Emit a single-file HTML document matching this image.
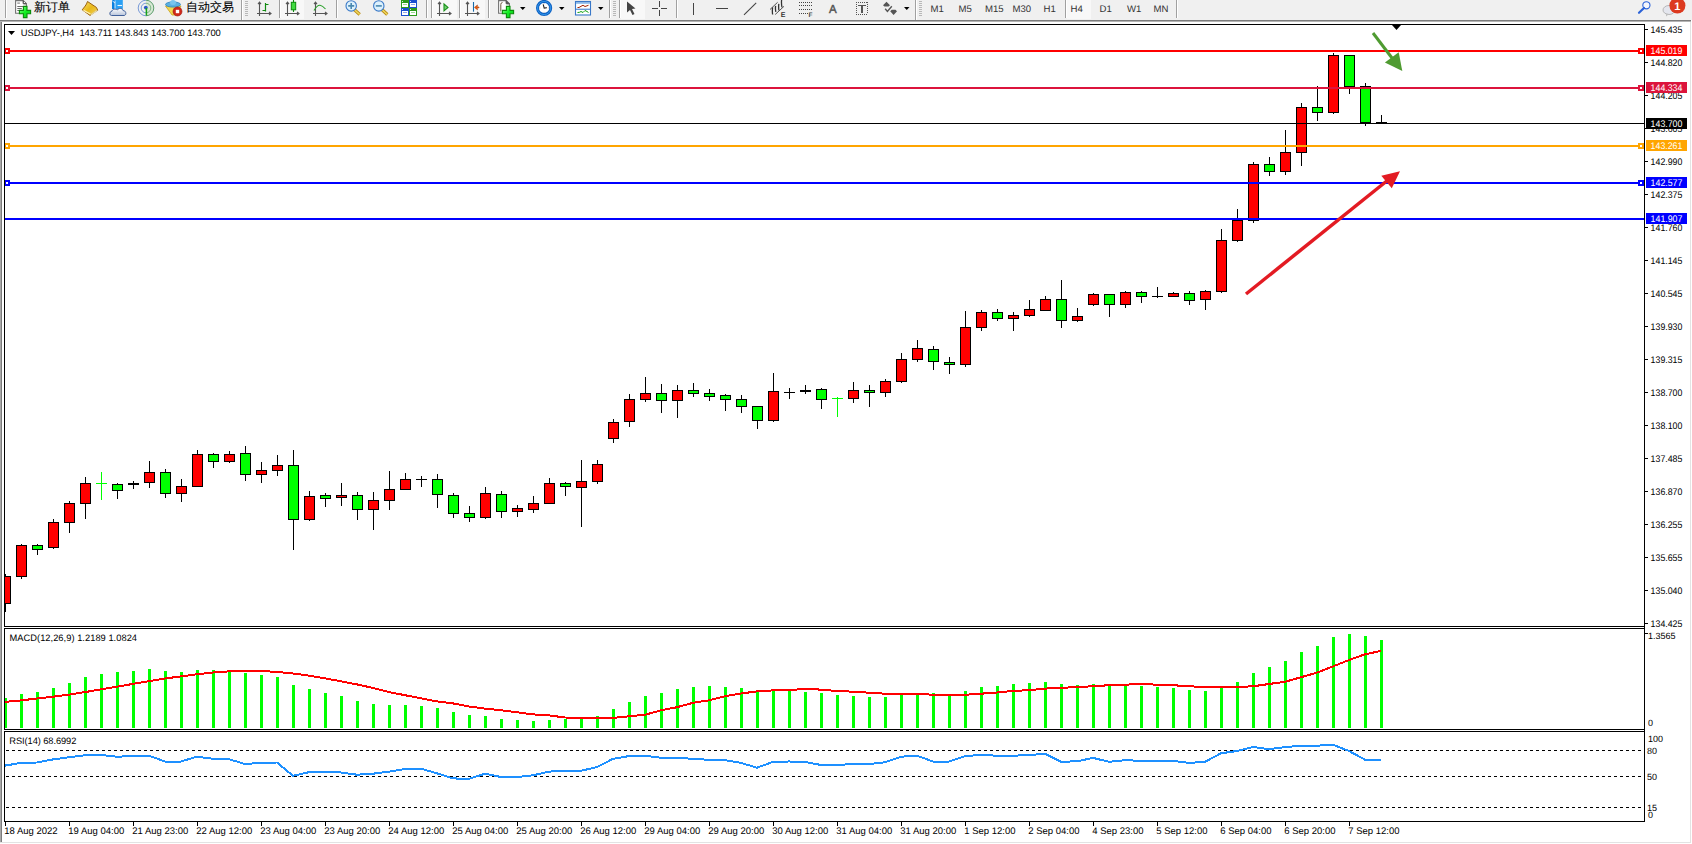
<!DOCTYPE html>
<html><head><meta charset="utf-8"><style>
html,body{margin:0;padding:0;width:1692px;height:844px;overflow:hidden;background:#fff}
svg{position:absolute;left:0;top:0}
text{font-family:"Liberation Sans", sans-serif;text-rendering:geometricPrecision}
</style></head><body>
<svg width="1692" height="844" viewBox="0 0 1692 844" shape-rendering="crispEdges">
<defs><clipPath id="mainclip"><rect x="5" y="25" width="1639" height="601"/></clipPath></defs>
<rect x="0" y="0" width="1692" height="844" fill="#ffffff"/>
<rect x="0" y="0" width="1692" height="20" fill="#f0f0f0"/>
<rect x="0" y="20" width="1691" height="1" fill="#7c7c7c"/>
<rect x="0" y="21" width="1691" height="1" fill="#b4b4b4"/>
<rect x="0" y="22" width="1" height="820" fill="#a8a8a8"/>
<rect x="1" y="22" width="1" height="820" fill="#7c7c7c"/>
<rect x="1690" y="22" width="1" height="820" fill="#e3e3e3"/>
<rect x="0" y="842" width="1691" height="1" fill="#e3e3e3"/>
<rect x="4" y="24" width="1641" height="1" fill="#000"/>
<rect x="4" y="626" width="1641" height="1" fill="#000"/>
<rect x="4" y="628" width="1641" height="1" fill="#000"/>
<rect x="4" y="729" width="1641" height="1" fill="#000"/>
<rect x="4" y="731" width="1641" height="1" fill="#000"/>
<rect x="4" y="821" width="1641" height="1" fill="#000"/>
<rect x="4" y="24" width="1" height="603" fill="#000"/>
<rect x="4" y="628" width="1" height="102" fill="#000"/>
<rect x="4" y="731" width="1" height="91" fill="#000"/>
<rect x="1644" y="24" width="1" height="798" fill="#000"/>
<rect x="1645" y="29" width="3" height="1" fill="#000"/>
<text x="1650.6" y="32.9" font-size="9.6" fill="#000" text-anchor="start" textLength="31.8" lengthAdjust="spacingAndGlyphs">145.435</text>
<rect x="1645" y="62" width="3" height="1" fill="#000"/>
<text x="1650.6" y="65.9" font-size="9.6" fill="#000" text-anchor="start" textLength="31.8" lengthAdjust="spacingAndGlyphs">144.820</text>
<rect x="1645" y="95" width="3" height="1" fill="#000"/>
<text x="1650.6" y="98.9" font-size="9.6" fill="#000" text-anchor="start" textLength="31.8" lengthAdjust="spacingAndGlyphs">144.205</text>
<rect x="1645" y="128" width="3" height="1" fill="#000"/>
<text x="1650.6" y="131.9" font-size="9.6" fill="#000" text-anchor="start" textLength="31.8" lengthAdjust="spacingAndGlyphs">143.605</text>
<rect x="1645" y="161" width="3" height="1" fill="#000"/>
<text x="1650.6" y="164.9" font-size="9.6" fill="#000" text-anchor="start" textLength="31.8" lengthAdjust="spacingAndGlyphs">142.990</text>
<rect x="1645" y="194" width="3" height="1" fill="#000"/>
<text x="1650.6" y="197.9" font-size="9.6" fill="#000" text-anchor="start" textLength="31.8" lengthAdjust="spacingAndGlyphs">142.375</text>
<rect x="1645" y="227" width="3" height="1" fill="#000"/>
<text x="1650.6" y="230.9" font-size="9.6" fill="#000" text-anchor="start" textLength="31.8" lengthAdjust="spacingAndGlyphs">141.760</text>
<rect x="1645" y="260" width="3" height="1" fill="#000"/>
<text x="1650.6" y="263.9" font-size="9.6" fill="#000" text-anchor="start" textLength="31.8" lengthAdjust="spacingAndGlyphs">141.145</text>
<rect x="1645" y="293" width="3" height="1" fill="#000"/>
<text x="1650.6" y="296.9" font-size="9.6" fill="#000" text-anchor="start" textLength="31.8" lengthAdjust="spacingAndGlyphs">140.545</text>
<rect x="1645" y="326" width="3" height="1" fill="#000"/>
<text x="1650.6" y="329.9" font-size="9.6" fill="#000" text-anchor="start" textLength="31.8" lengthAdjust="spacingAndGlyphs">139.930</text>
<rect x="1645" y="359" width="3" height="1" fill="#000"/>
<text x="1650.6" y="362.9" font-size="9.6" fill="#000" text-anchor="start" textLength="31.8" lengthAdjust="spacingAndGlyphs">139.315</text>
<rect x="1645" y="392" width="3" height="1" fill="#000"/>
<text x="1650.6" y="395.9" font-size="9.6" fill="#000" text-anchor="start" textLength="31.8" lengthAdjust="spacingAndGlyphs">138.700</text>
<rect x="1645" y="425" width="3" height="1" fill="#000"/>
<text x="1650.6" y="428.9" font-size="9.6" fill="#000" text-anchor="start" textLength="31.8" lengthAdjust="spacingAndGlyphs">138.100</text>
<rect x="1645" y="458" width="3" height="1" fill="#000"/>
<text x="1650.6" y="461.9" font-size="9.6" fill="#000" text-anchor="start" textLength="31.8" lengthAdjust="spacingAndGlyphs">137.485</text>
<rect x="1645" y="491" width="3" height="1" fill="#000"/>
<text x="1650.6" y="494.9" font-size="9.6" fill="#000" text-anchor="start" textLength="31.8" lengthAdjust="spacingAndGlyphs">136.870</text>
<rect x="1645" y="524" width="3" height="1" fill="#000"/>
<text x="1650.6" y="527.9" font-size="9.6" fill="#000" text-anchor="start" textLength="31.8" lengthAdjust="spacingAndGlyphs">136.255</text>
<rect x="1645" y="557" width="3" height="1" fill="#000"/>
<text x="1650.6" y="560.9" font-size="9.6" fill="#000" text-anchor="start" textLength="31.8" lengthAdjust="spacingAndGlyphs">135.655</text>
<rect x="1645" y="590" width="3" height="1" fill="#000"/>
<text x="1650.6" y="593.9" font-size="9.6" fill="#000" text-anchor="start" textLength="31.8" lengthAdjust="spacingAndGlyphs">135.040</text>
<rect x="1645" y="623" width="3" height="1" fill="#000"/>
<text x="1650.6" y="626.9" font-size="9.6" fill="#000" text-anchor="start" textLength="31.8" lengthAdjust="spacingAndGlyphs">134.425</text>
<rect x="5" y="822" width="1" height="4" fill="#000"/>
<text x="4.3" y="834" font-size="9.5" fill="#000" text-anchor="start">18 Aug 2022</text>
<rect x="69" y="822" width="1" height="4" fill="#000"/>
<text x="68.3" y="834" font-size="9.5" fill="#000" text-anchor="start">19 Aug 04:00</text>
<rect x="133" y="822" width="1" height="4" fill="#000"/>
<text x="132.3" y="834" font-size="9.5" fill="#000" text-anchor="start">21 Aug 23:00</text>
<rect x="197" y="822" width="1" height="4" fill="#000"/>
<text x="196.3" y="834" font-size="9.5" fill="#000" text-anchor="start">22 Aug 12:00</text>
<rect x="261" y="822" width="1" height="4" fill="#000"/>
<text x="260.3" y="834" font-size="9.5" fill="#000" text-anchor="start">23 Aug 04:00</text>
<rect x="325" y="822" width="1" height="4" fill="#000"/>
<text x="324.3" y="834" font-size="9.5" fill="#000" text-anchor="start">23 Aug 20:00</text>
<rect x="389" y="822" width="1" height="4" fill="#000"/>
<text x="388.3" y="834" font-size="9.5" fill="#000" text-anchor="start">24 Aug 12:00</text>
<rect x="453" y="822" width="1" height="4" fill="#000"/>
<text x="452.3" y="834" font-size="9.5" fill="#000" text-anchor="start">25 Aug 04:00</text>
<rect x="517" y="822" width="1" height="4" fill="#000"/>
<text x="516.3" y="834" font-size="9.5" fill="#000" text-anchor="start">25 Aug 20:00</text>
<rect x="581" y="822" width="1" height="4" fill="#000"/>
<text x="580.3" y="834" font-size="9.5" fill="#000" text-anchor="start">26 Aug 12:00</text>
<rect x="645" y="822" width="1" height="4" fill="#000"/>
<text x="644.3" y="834" font-size="9.5" fill="#000" text-anchor="start">29 Aug 04:00</text>
<rect x="709" y="822" width="1" height="4" fill="#000"/>
<text x="708.3" y="834" font-size="9.5" fill="#000" text-anchor="start">29 Aug 20:00</text>
<rect x="773" y="822" width="1" height="4" fill="#000"/>
<text x="772.3" y="834" font-size="9.5" fill="#000" text-anchor="start">30 Aug 12:00</text>
<rect x="837" y="822" width="1" height="4" fill="#000"/>
<text x="836.3" y="834" font-size="9.5" fill="#000" text-anchor="start">31 Aug 04:00</text>
<rect x="901" y="822" width="1" height="4" fill="#000"/>
<text x="900.3" y="834" font-size="9.5" fill="#000" text-anchor="start">31 Aug 20:00</text>
<rect x="965" y="822" width="1" height="4" fill="#000"/>
<text x="964.3" y="834" font-size="9.5" fill="#000" text-anchor="start">1 Sep 12:00</text>
<rect x="1029" y="822" width="1" height="4" fill="#000"/>
<text x="1028.3" y="834" font-size="9.5" fill="#000" text-anchor="start">2 Sep 04:00</text>
<rect x="1093" y="822" width="1" height="4" fill="#000"/>
<text x="1092.3" y="834" font-size="9.5" fill="#000" text-anchor="start">4 Sep 23:00</text>
<rect x="1157" y="822" width="1" height="4" fill="#000"/>
<text x="1156.3" y="834" font-size="9.5" fill="#000" text-anchor="start">5 Sep 12:00</text>
<rect x="1221" y="822" width="1" height="4" fill="#000"/>
<text x="1220.3" y="834" font-size="9.5" fill="#000" text-anchor="start">6 Sep 04:00</text>
<rect x="1285" y="822" width="1" height="4" fill="#000"/>
<text x="1284.3" y="834" font-size="9.5" fill="#000" text-anchor="start">6 Sep 20:00</text>
<rect x="1349" y="822" width="1" height="4" fill="#000"/>
<text x="1348.3" y="834" font-size="9.5" fill="#000" text-anchor="start">7 Sep 12:00</text>
<line x1="6" y1="750.5" x2="1644" y2="750.5" stroke="#000" stroke-width="1" stroke-dasharray="3 3"/>
<line x1="6" y1="776.5" x2="1644" y2="776.5" stroke="#000" stroke-width="1" stroke-dasharray="3 3"/>
<line x1="6" y1="807.5" x2="1644" y2="807.5" stroke="#000" stroke-width="1" stroke-dasharray="3 3"/>
<g clip-path="url(#mainclip)">
<rect x="5" y="574" width="1" height="38" fill="#000"/>
<rect x="0" y="576" width="11" height="28" fill="#000"/>
<rect x="1" y="577" width="9" height="26" fill="#ff0000"/>
<rect x="21" y="544" width="1" height="35" fill="#000"/>
<rect x="16" y="545" width="11" height="32" fill="#000"/>
<rect x="17" y="546" width="9" height="30" fill="#ff0000"/>
<rect x="37" y="544" width="1" height="11" fill="#000"/>
<rect x="32" y="545" width="11" height="5" fill="#000"/>
<rect x="33" y="546" width="9" height="3" fill="#00ff00"/>
<rect x="53" y="519" width="1" height="30" fill="#000"/>
<rect x="48" y="522" width="11" height="26" fill="#000"/>
<rect x="49" y="523" width="9" height="24" fill="#ff0000"/>
<rect x="69" y="501" width="1" height="32" fill="#000"/>
<rect x="64" y="503" width="11" height="20" fill="#000"/>
<rect x="65" y="504" width="9" height="18" fill="#ff0000"/>
<rect x="85" y="477" width="1" height="42" fill="#000"/>
<rect x="80" y="483" width="11" height="21" fill="#000"/>
<rect x="81" y="484" width="9" height="19" fill="#ff0000"/>
<rect x="101" y="472" width="1" height="28" fill="#00ff00"/>
<rect x="96" y="483" width="11" height="1" fill="#00ff00"/>
<rect x="117" y="483" width="1" height="16" fill="#000"/>
<rect x="112" y="484" width="11" height="7" fill="#000"/>
<rect x="113" y="485" width="9" height="5" fill="#00ff00"/>
<rect x="133" y="481" width="1" height="8" fill="#000"/>
<rect x="128" y="483" width="11" height="2" fill="#000"/>
<rect x="149" y="461" width="1" height="27" fill="#000"/>
<rect x="144" y="472" width="11" height="11" fill="#000"/>
<rect x="145" y="473" width="9" height="9" fill="#ff0000"/>
<rect x="165" y="469" width="1" height="29" fill="#000"/>
<rect x="160" y="472" width="11" height="22" fill="#000"/>
<rect x="161" y="473" width="9" height="20" fill="#00ff00"/>
<rect x="181" y="479" width="1" height="23" fill="#000"/>
<rect x="176" y="486" width="11" height="8" fill="#000"/>
<rect x="177" y="487" width="9" height="6" fill="#ff0000"/>
<rect x="197" y="450" width="1" height="37" fill="#000"/>
<rect x="192" y="454" width="11" height="33" fill="#000"/>
<rect x="193" y="455" width="9" height="31" fill="#ff0000"/>
<rect x="213" y="453" width="1" height="15" fill="#000"/>
<rect x="208" y="454" width="11" height="8" fill="#000"/>
<rect x="209" y="455" width="9" height="6" fill="#00ff00"/>
<rect x="229" y="451" width="1" height="12" fill="#000"/>
<rect x="224" y="454" width="11" height="8" fill="#000"/>
<rect x="225" y="455" width="9" height="6" fill="#ff0000"/>
<rect x="245" y="446" width="1" height="35" fill="#000"/>
<rect x="240" y="453" width="11" height="22" fill="#000"/>
<rect x="241" y="454" width="9" height="20" fill="#00ff00"/>
<rect x="261" y="462" width="1" height="21" fill="#000"/>
<rect x="256" y="470" width="11" height="5" fill="#000"/>
<rect x="257" y="471" width="9" height="3" fill="#ff0000"/>
<rect x="277" y="455" width="1" height="21" fill="#000"/>
<rect x="272" y="465" width="11" height="6" fill="#000"/>
<rect x="273" y="466" width="9" height="4" fill="#ff0000"/>
<rect x="293" y="450" width="1" height="100" fill="#000"/>
<rect x="288" y="465" width="11" height="55" fill="#000"/>
<rect x="289" y="466" width="9" height="53" fill="#00ff00"/>
<rect x="309" y="491" width="1" height="30" fill="#000"/>
<rect x="304" y="496" width="11" height="24" fill="#000"/>
<rect x="305" y="497" width="9" height="22" fill="#ff0000"/>
<rect x="325" y="493" width="1" height="14" fill="#000"/>
<rect x="320" y="495" width="11" height="4" fill="#000"/>
<rect x="321" y="496" width="9" height="2" fill="#00ff00"/>
<rect x="341" y="483" width="1" height="23" fill="#000"/>
<rect x="336" y="495" width="11" height="3" fill="#000"/>
<rect x="337" y="496" width="9" height="1" fill="#ff0000"/>
<rect x="357" y="492" width="1" height="28" fill="#000"/>
<rect x="352" y="495" width="11" height="15" fill="#000"/>
<rect x="353" y="496" width="9" height="13" fill="#00ff00"/>
<rect x="373" y="492" width="1" height="38" fill="#000"/>
<rect x="368" y="500" width="11" height="10" fill="#000"/>
<rect x="369" y="501" width="9" height="8" fill="#ff0000"/>
<rect x="389" y="471" width="1" height="39" fill="#000"/>
<rect x="384" y="489" width="11" height="12" fill="#000"/>
<rect x="385" y="490" width="9" height="10" fill="#ff0000"/>
<rect x="405" y="473" width="1" height="17" fill="#000"/>
<rect x="400" y="479" width="11" height="11" fill="#000"/>
<rect x="401" y="480" width="9" height="9" fill="#ff0000"/>
<rect x="421" y="476" width="1" height="11" fill="#000"/>
<rect x="416" y="479" width="11" height="1" fill="#000"/>
<rect x="437" y="474" width="1" height="34" fill="#000"/>
<rect x="432" y="479" width="11" height="16" fill="#000"/>
<rect x="433" y="480" width="9" height="14" fill="#00ff00"/>
<rect x="453" y="493" width="1" height="25" fill="#000"/>
<rect x="448" y="495" width="11" height="19" fill="#000"/>
<rect x="449" y="496" width="9" height="17" fill="#00ff00"/>
<rect x="469" y="506" width="1" height="16" fill="#000"/>
<rect x="464" y="513" width="11" height="5" fill="#000"/>
<rect x="465" y="514" width="9" height="3" fill="#00ff00"/>
<rect x="485" y="487" width="1" height="32" fill="#000"/>
<rect x="480" y="493" width="11" height="25" fill="#000"/>
<rect x="481" y="494" width="9" height="23" fill="#ff0000"/>
<rect x="501" y="491" width="1" height="27" fill="#000"/>
<rect x="496" y="494" width="11" height="18" fill="#000"/>
<rect x="497" y="495" width="9" height="16" fill="#00ff00"/>
<rect x="517" y="505" width="1" height="12" fill="#000"/>
<rect x="512" y="508" width="11" height="4" fill="#000"/>
<rect x="513" y="509" width="9" height="2" fill="#ff0000"/>
<rect x="533" y="496" width="1" height="17" fill="#000"/>
<rect x="528" y="503" width="11" height="7" fill="#000"/>
<rect x="529" y="504" width="9" height="5" fill="#ff0000"/>
<rect x="549" y="478" width="1" height="26" fill="#000"/>
<rect x="544" y="483" width="11" height="21" fill="#000"/>
<rect x="545" y="484" width="9" height="19" fill="#ff0000"/>
<rect x="565" y="482" width="1" height="14" fill="#000"/>
<rect x="560" y="483" width="11" height="4" fill="#000"/>
<rect x="561" y="484" width="9" height="2" fill="#00ff00"/>
<rect x="581" y="460" width="1" height="67" fill="#000"/>
<rect x="576" y="481" width="11" height="7" fill="#000"/>
<rect x="577" y="482" width="9" height="5" fill="#ff0000"/>
<rect x="597" y="460" width="1" height="24" fill="#000"/>
<rect x="592" y="464" width="11" height="18" fill="#000"/>
<rect x="593" y="465" width="9" height="16" fill="#ff0000"/>
<rect x="613" y="419" width="1" height="24" fill="#000"/>
<rect x="608" y="422" width="11" height="17" fill="#000"/>
<rect x="609" y="423" width="9" height="15" fill="#ff0000"/>
<rect x="629" y="394" width="1" height="33" fill="#000"/>
<rect x="624" y="399" width="11" height="23" fill="#000"/>
<rect x="625" y="400" width="9" height="21" fill="#ff0000"/>
<rect x="645" y="377" width="1" height="25" fill="#000"/>
<rect x="640" y="393" width="11" height="7" fill="#000"/>
<rect x="641" y="394" width="9" height="5" fill="#ff0000"/>
<rect x="661" y="384" width="1" height="29" fill="#000"/>
<rect x="656" y="393" width="11" height="8" fill="#000"/>
<rect x="657" y="394" width="9" height="6" fill="#00ff00"/>
<rect x="677" y="385" width="1" height="33" fill="#000"/>
<rect x="672" y="390" width="11" height="11" fill="#000"/>
<rect x="673" y="391" width="9" height="9" fill="#ff0000"/>
<rect x="693" y="383" width="1" height="14" fill="#000"/>
<rect x="688" y="390" width="11" height="4" fill="#000"/>
<rect x="689" y="391" width="9" height="2" fill="#00ff00"/>
<rect x="709" y="389" width="1" height="12" fill="#000"/>
<rect x="704" y="393" width="11" height="4" fill="#000"/>
<rect x="705" y="394" width="9" height="2" fill="#00ff00"/>
<rect x="725" y="394" width="1" height="17" fill="#000"/>
<rect x="720" y="395" width="11" height="5" fill="#000"/>
<rect x="721" y="396" width="9" height="3" fill="#00ff00"/>
<rect x="741" y="395" width="1" height="18" fill="#000"/>
<rect x="736" y="399" width="11" height="8" fill="#000"/>
<rect x="737" y="400" width="9" height="6" fill="#00ff00"/>
<rect x="757" y="406" width="1" height="23" fill="#000"/>
<rect x="752" y="406" width="11" height="15" fill="#000"/>
<rect x="753" y="407" width="9" height="13" fill="#00ff00"/>
<rect x="773" y="373" width="1" height="49" fill="#000"/>
<rect x="768" y="391" width="11" height="30" fill="#000"/>
<rect x="769" y="392" width="9" height="28" fill="#ff0000"/>
<rect x="789" y="388" width="1" height="11" fill="#000"/>
<rect x="784" y="392" width="11" height="1" fill="#000"/>
<rect x="805" y="385" width="1" height="9" fill="#000"/>
<rect x="800" y="390" width="11" height="2" fill="#000"/>
<rect x="821" y="388" width="1" height="21" fill="#000"/>
<rect x="816" y="389" width="11" height="11" fill="#000"/>
<rect x="817" y="390" width="9" height="9" fill="#00ff00"/>
<rect x="837" y="397" width="1" height="20" fill="#00ff00"/>
<rect x="832" y="398" width="11" height="1" fill="#00ff00"/>
<rect x="853" y="382" width="1" height="21" fill="#000"/>
<rect x="848" y="390" width="11" height="9" fill="#000"/>
<rect x="849" y="391" width="9" height="7" fill="#ff0000"/>
<rect x="869" y="385" width="1" height="22" fill="#000"/>
<rect x="864" y="390" width="11" height="3" fill="#000"/>
<rect x="865" y="391" width="9" height="1" fill="#00ff00"/>
<rect x="885" y="379" width="1" height="18" fill="#000"/>
<rect x="880" y="381" width="11" height="12" fill="#000"/>
<rect x="881" y="382" width="9" height="10" fill="#ff0000"/>
<rect x="901" y="353" width="1" height="30" fill="#000"/>
<rect x="896" y="359" width="11" height="23" fill="#000"/>
<rect x="897" y="360" width="9" height="21" fill="#ff0000"/>
<rect x="917" y="340" width="1" height="22" fill="#000"/>
<rect x="912" y="348" width="11" height="12" fill="#000"/>
<rect x="913" y="349" width="9" height="10" fill="#ff0000"/>
<rect x="933" y="346" width="1" height="24" fill="#000"/>
<rect x="928" y="349" width="11" height="13" fill="#000"/>
<rect x="929" y="350" width="9" height="11" fill="#00ff00"/>
<rect x="949" y="357" width="1" height="17" fill="#000"/>
<rect x="944" y="362" width="11" height="3" fill="#000"/>
<rect x="945" y="363" width="9" height="1" fill="#00ff00"/>
<rect x="965" y="311" width="1" height="56" fill="#000"/>
<rect x="960" y="327" width="11" height="38" fill="#000"/>
<rect x="961" y="328" width="9" height="36" fill="#ff0000"/>
<rect x="981" y="310" width="1" height="21" fill="#000"/>
<rect x="976" y="312" width="11" height="16" fill="#000"/>
<rect x="977" y="313" width="9" height="14" fill="#ff0000"/>
<rect x="997" y="309" width="1" height="12" fill="#000"/>
<rect x="992" y="312" width="11" height="7" fill="#000"/>
<rect x="993" y="313" width="9" height="5" fill="#00ff00"/>
<rect x="1013" y="312" width="1" height="19" fill="#000"/>
<rect x="1008" y="315" width="11" height="4" fill="#000"/>
<rect x="1009" y="316" width="9" height="2" fill="#ff0000"/>
<rect x="1029" y="300" width="1" height="17" fill="#000"/>
<rect x="1024" y="309" width="11" height="7" fill="#000"/>
<rect x="1025" y="310" width="9" height="5" fill="#ff0000"/>
<rect x="1045" y="296" width="1" height="15" fill="#000"/>
<rect x="1040" y="299" width="11" height="12" fill="#000"/>
<rect x="1041" y="300" width="9" height="10" fill="#ff0000"/>
<rect x="1061" y="280" width="1" height="48" fill="#000"/>
<rect x="1056" y="299" width="11" height="22" fill="#000"/>
<rect x="1057" y="300" width="9" height="20" fill="#00ff00"/>
<rect x="1077" y="308" width="1" height="14" fill="#000"/>
<rect x="1072" y="316" width="11" height="5" fill="#000"/>
<rect x="1073" y="317" width="9" height="3" fill="#ff0000"/>
<rect x="1093" y="293" width="1" height="13" fill="#000"/>
<rect x="1088" y="294" width="11" height="11" fill="#000"/>
<rect x="1089" y="295" width="9" height="9" fill="#ff0000"/>
<rect x="1109" y="294" width="1" height="23" fill="#000"/>
<rect x="1104" y="294" width="11" height="11" fill="#000"/>
<rect x="1105" y="295" width="9" height="9" fill="#00ff00"/>
<rect x="1125" y="291" width="1" height="17" fill="#000"/>
<rect x="1120" y="292" width="11" height="13" fill="#000"/>
<rect x="1121" y="293" width="9" height="11" fill="#ff0000"/>
<rect x="1141" y="291" width="1" height="12" fill="#000"/>
<rect x="1136" y="292" width="11" height="5" fill="#000"/>
<rect x="1137" y="293" width="9" height="3" fill="#00ff00"/>
<rect x="1157" y="287" width="1" height="11" fill="#000"/>
<rect x="1152" y="296" width="11" height="1" fill="#000"/>
<rect x="1173" y="292" width="1" height="5" fill="#000"/>
<rect x="1168" y="293" width="11" height="4" fill="#000"/>
<rect x="1169" y="294" width="9" height="2" fill="#ff0000"/>
<rect x="1189" y="291" width="1" height="14" fill="#000"/>
<rect x="1184" y="293" width="11" height="8" fill="#000"/>
<rect x="1185" y="294" width="9" height="6" fill="#00ff00"/>
<rect x="1205" y="290" width="1" height="20" fill="#000"/>
<rect x="1200" y="291" width="11" height="9" fill="#000"/>
<rect x="1201" y="292" width="9" height="7" fill="#ff0000"/>
<rect x="1221" y="229" width="1" height="64" fill="#000"/>
<rect x="1216" y="240" width="11" height="52" fill="#000"/>
<rect x="1217" y="241" width="9" height="50" fill="#ff0000"/>
<rect x="1237" y="209" width="1" height="33" fill="#000"/>
<rect x="1232" y="220" width="11" height="21" fill="#000"/>
<rect x="1233" y="221" width="9" height="19" fill="#ff0000"/>
<rect x="1253" y="162" width="1" height="61" fill="#000"/>
<rect x="1248" y="164" width="11" height="57" fill="#000"/>
<rect x="1249" y="165" width="9" height="55" fill="#ff0000"/>
<rect x="1269" y="157" width="1" height="19" fill="#000"/>
<rect x="1264" y="164" width="11" height="8" fill="#000"/>
<rect x="1265" y="165" width="9" height="6" fill="#00ff00"/>
<rect x="1285" y="130" width="1" height="45" fill="#000"/>
<rect x="1280" y="152" width="11" height="20" fill="#000"/>
<rect x="1281" y="153" width="9" height="18" fill="#ff0000"/>
<rect x="1301" y="103" width="1" height="63" fill="#000"/>
<rect x="1296" y="107" width="11" height="46" fill="#000"/>
<rect x="1297" y="108" width="9" height="44" fill="#ff0000"/>
<rect x="1317" y="86" width="1" height="35" fill="#000"/>
<rect x="1312" y="107" width="11" height="6" fill="#000"/>
<rect x="1313" y="108" width="9" height="4" fill="#00ff00"/>
<rect x="1333" y="53" width="1" height="61" fill="#000"/>
<rect x="1328" y="55" width="11" height="58" fill="#000"/>
<rect x="1329" y="56" width="9" height="56" fill="#ff0000"/>
<rect x="1349" y="55" width="1" height="39" fill="#000"/>
<rect x="1344" y="55" width="11" height="32" fill="#000"/>
<rect x="1345" y="56" width="9" height="30" fill="#00ff00"/>
<rect x="1365" y="83" width="1" height="43" fill="#000"/>
<rect x="1360" y="86" width="11" height="37" fill="#000"/>
<rect x="1361" y="87" width="9" height="35" fill="#00ff00"/>
<rect x="1381" y="115" width="1" height="9" fill="#000"/>
<rect x="1376" y="122" width="11" height="1" fill="#000"/>
<rect x="5" y="50" width="1639" height="2" fill="#ff0000"/>
<rect x="4" y="48" width="6" height="6" fill="#ff0000"/>
<rect x="6" y="50" width="2" height="2" fill="#fff"/>
<rect x="1638" y="48" width="6" height="6" fill="#ff0000"/>
<rect x="1640" y="50" width="2" height="2" fill="#fff"/>
<rect x="5" y="87" width="1639" height="2" fill="#dc143c"/>
<rect x="4" y="85" width="6" height="6" fill="#dc143c"/>
<rect x="6" y="87" width="2" height="2" fill="#fff"/>
<rect x="1638" y="85" width="6" height="6" fill="#dc143c"/>
<rect x="1640" y="87" width="2" height="2" fill="#fff"/>
<rect x="5" y="123" width="1639" height="1" fill="#000"/>
<rect x="5" y="145" width="1639" height="2" fill="#ffa500"/>
<rect x="4" y="143" width="6" height="6" fill="#ffa500"/>
<rect x="6" y="145" width="2" height="2" fill="#fff"/>
<rect x="1638" y="143" width="6" height="6" fill="#ffa500"/>
<rect x="1640" y="145" width="2" height="2" fill="#fff"/>
<rect x="5" y="182" width="1639" height="2" fill="#0000ff"/>
<rect x="4" y="180" width="6" height="6" fill="#0000ff"/>
<rect x="6" y="182" width="2" height="2" fill="#fff"/>
<rect x="1638" y="180" width="6" height="6" fill="#0000ff"/>
<rect x="1640" y="182" width="2" height="2" fill="#fff"/>
<rect x="5" y="218" width="1639" height="2" fill="#0000ff"/>
</g>
<g shape-rendering="geometricPrecision">
<line x1="1373" y1="33" x2="1392" y2="58" stroke="#4f9b31" stroke-width="3"/>
<polygon points="1402.3,71 1384.9,62.5 1398.7,52.2" fill="#4f9b31"/>
<line x1="1246" y1="294" x2="1388" y2="180" stroke="#e31b23" stroke-width="3.5"/>
<polygon points="1400,171.3 1381.3,175.8 1391.8,188.2" fill="#e31b23"/>
</g>
<polygon points="1392,25 1401,25 1396.5,30" fill="#000" shape-rendering="geometricPrecision"/>
<rect x="1646" y="45" width="41" height="11" fill="#ff0000"/>
<text x="1650.6" y="53.9" font-size="9.6" fill="#fff" text-anchor="start" textLength="31.8" lengthAdjust="spacingAndGlyphs">145.019</text>
<rect x="1646" y="82" width="41" height="11" fill="#dc143c"/>
<text x="1650.6" y="90.9" font-size="9.6" fill="#fff" text-anchor="start" textLength="31.8" lengthAdjust="spacingAndGlyphs">144.334</text>
<rect x="1646" y="118" width="41" height="11" fill="#000000"/>
<text x="1650.6" y="126.9" font-size="9.6" fill="#fff" text-anchor="start" textLength="31.8" lengthAdjust="spacingAndGlyphs">143.700</text>
<rect x="1646" y="140" width="41" height="11" fill="#ffa500"/>
<text x="1650.6" y="148.9" font-size="9.6" fill="#fff" text-anchor="start" textLength="31.8" lengthAdjust="spacingAndGlyphs">143.261</text>
<rect x="1646" y="177" width="41" height="11" fill="#0000ff"/>
<text x="1650.6" y="185.9" font-size="9.6" fill="#fff" text-anchor="start" textLength="31.8" lengthAdjust="spacingAndGlyphs">142.577</text>
<rect x="1646" y="213" width="41" height="11" fill="#0000ff"/>
<text x="1650.6" y="221.9" font-size="9.6" fill="#fff" text-anchor="start" textLength="31.8" lengthAdjust="spacingAndGlyphs">141.907</text>
<polygon points="8,31 15,31 11.5,35" fill="#000" shape-rendering="geometricPrecision"/>
<text x="20.8" y="36" font-size="9.4" fill="#000" text-anchor="start" textLength="200" lengthAdjust="spacing">USDJPY-,H4&#160; 143.711 143.843 143.700 143.700</text>
<rect x="5" y="698" width="2" height="30" fill="#00ff00"/>
<rect x="20" y="694" width="3" height="34" fill="#00ff00"/>
<rect x="36" y="692" width="3" height="36" fill="#00ff00"/>
<rect x="52" y="688" width="3" height="40" fill="#00ff00"/>
<rect x="68" y="683" width="3" height="45" fill="#00ff00"/>
<rect x="84" y="677" width="3" height="51" fill="#00ff00"/>
<rect x="100" y="674" width="3" height="54" fill="#00ff00"/>
<rect x="116" y="672" width="3" height="56" fill="#00ff00"/>
<rect x="132" y="671" width="3" height="57" fill="#00ff00"/>
<rect x="148" y="669" width="3" height="59" fill="#00ff00"/>
<rect x="164" y="671" width="3" height="57" fill="#00ff00"/>
<rect x="180" y="672" width="3" height="56" fill="#00ff00"/>
<rect x="196" y="670" width="3" height="58" fill="#00ff00"/>
<rect x="212" y="670" width="3" height="58" fill="#00ff00"/>
<rect x="228" y="670" width="3" height="58" fill="#00ff00"/>
<rect x="244" y="673" width="3" height="55" fill="#00ff00"/>
<rect x="260" y="675" width="3" height="53" fill="#00ff00"/>
<rect x="276" y="677" width="3" height="51" fill="#00ff00"/>
<rect x="292" y="685" width="3" height="43" fill="#00ff00"/>
<rect x="308" y="689" width="3" height="39" fill="#00ff00"/>
<rect x="324" y="693" width="3" height="35" fill="#00ff00"/>
<rect x="340" y="696" width="3" height="32" fill="#00ff00"/>
<rect x="356" y="701" width="3" height="27" fill="#00ff00"/>
<rect x="372" y="704" width="3" height="24" fill="#00ff00"/>
<rect x="388" y="705" width="3" height="23" fill="#00ff00"/>
<rect x="404" y="705" width="3" height="23" fill="#00ff00"/>
<rect x="420" y="706" width="3" height="22" fill="#00ff00"/>
<rect x="436" y="708" width="3" height="20" fill="#00ff00"/>
<rect x="452" y="712" width="3" height="16" fill="#00ff00"/>
<rect x="468" y="715" width="3" height="13" fill="#00ff00"/>
<rect x="484" y="716" width="3" height="12" fill="#00ff00"/>
<rect x="500" y="719" width="3" height="9" fill="#00ff00"/>
<rect x="516" y="720" width="3" height="8" fill="#00ff00"/>
<rect x="532" y="721" width="3" height="7" fill="#00ff00"/>
<rect x="548" y="720" width="3" height="8" fill="#00ff00"/>
<rect x="564" y="719" width="3" height="9" fill="#00ff00"/>
<rect x="580" y="719" width="3" height="9" fill="#00ff00"/>
<rect x="596" y="716" width="3" height="12" fill="#00ff00"/>
<rect x="612" y="709" width="3" height="19" fill="#00ff00"/>
<rect x="628" y="702" width="3" height="26" fill="#00ff00"/>
<rect x="644" y="696" width="3" height="32" fill="#00ff00"/>
<rect x="660" y="693" width="3" height="35" fill="#00ff00"/>
<rect x="676" y="689" width="3" height="39" fill="#00ff00"/>
<rect x="692" y="687" width="3" height="41" fill="#00ff00"/>
<rect x="708" y="686" width="3" height="42" fill="#00ff00"/>
<rect x="724" y="687" width="3" height="41" fill="#00ff00"/>
<rect x="740" y="688" width="3" height="40" fill="#00ff00"/>
<rect x="756" y="692" width="3" height="36" fill="#00ff00"/>
<rect x="772" y="691" width="3" height="37" fill="#00ff00"/>
<rect x="788" y="691" width="3" height="37" fill="#00ff00"/>
<rect x="804" y="692" width="3" height="36" fill="#00ff00"/>
<rect x="820" y="693" width="3" height="35" fill="#00ff00"/>
<rect x="836" y="695" width="3" height="33" fill="#00ff00"/>
<rect x="852" y="696" width="3" height="32" fill="#00ff00"/>
<rect x="868" y="697" width="3" height="31" fill="#00ff00"/>
<rect x="884" y="697" width="3" height="31" fill="#00ff00"/>
<rect x="900" y="694" width="3" height="34" fill="#00ff00"/>
<rect x="916" y="693" width="3" height="35" fill="#00ff00"/>
<rect x="932" y="693" width="3" height="35" fill="#00ff00"/>
<rect x="948" y="695" width="3" height="33" fill="#00ff00"/>
<rect x="964" y="691" width="3" height="37" fill="#00ff00"/>
<rect x="980" y="687" width="3" height="41" fill="#00ff00"/>
<rect x="996" y="686" width="3" height="42" fill="#00ff00"/>
<rect x="1012" y="684" width="3" height="44" fill="#00ff00"/>
<rect x="1028" y="683" width="3" height="45" fill="#00ff00"/>
<rect x="1044" y="682" width="3" height="46" fill="#00ff00"/>
<rect x="1060" y="684" width="3" height="44" fill="#00ff00"/>
<rect x="1076" y="685" width="3" height="43" fill="#00ff00"/>
<rect x="1092" y="684" width="3" height="44" fill="#00ff00"/>
<rect x="1108" y="685" width="3" height="43" fill="#00ff00"/>
<rect x="1124" y="685" width="3" height="43" fill="#00ff00"/>
<rect x="1140" y="686" width="3" height="42" fill="#00ff00"/>
<rect x="1156" y="687" width="3" height="41" fill="#00ff00"/>
<rect x="1172" y="688" width="3" height="40" fill="#00ff00"/>
<rect x="1188" y="690" width="3" height="38" fill="#00ff00"/>
<rect x="1204" y="691" width="3" height="37" fill="#00ff00"/>
<rect x="1220" y="688" width="3" height="40" fill="#00ff00"/>
<rect x="1236" y="682" width="3" height="46" fill="#00ff00"/>
<rect x="1252" y="673" width="3" height="55" fill="#00ff00"/>
<rect x="1268" y="667" width="3" height="61" fill="#00ff00"/>
<rect x="1284" y="661" width="3" height="67" fill="#00ff00"/>
<rect x="1300" y="652" width="3" height="76" fill="#00ff00"/>
<rect x="1316" y="646" width="3" height="82" fill="#00ff00"/>
<rect x="1332" y="637" width="3" height="91" fill="#00ff00"/>
<rect x="1348" y="634" width="3" height="94" fill="#00ff00"/>
<rect x="1364" y="636" width="3" height="92" fill="#00ff00"/>
<rect x="1380" y="640" width="3" height="88" fill="#00ff00"/>
<polyline points="5,701.9 21,700.4 37,698.5 53,696.7 69,694.6 85,692.1 101,689.4 117,686.7 133,683.9 149,681.2 165,678.5 181,676.4 197,674.3 213,672.5 229,671.4 245,671 261,671 277,671.9 293,673.5 309,675.6 325,678.3 341,681.3 357,684.4 373,687.9 389,692.1 405,695.2 421,698.3 437,701.4 453,703.4 469,706.5 485,708.6 501,710.3 517,712.3 533,714.4 549,715.4 565,717.5 581,717.9 597,717.9 613,717.9 629,716.3 645,714.8 661,710.3 677,707.2 693,702.8 709,700.3 725,696.2 741,693.5 757,691.4 773,690.4 789,690 805,689 821,689.6 837,691 853,691.7 869,692.7 885,693.7 901,693.7 917,693.7 933,694.8 949,694.8 965,694.8 981,693.7 997,692.5 1013,690.9 1029,690.2 1045,688.6 1061,687.9 1077,687 1093,686.3 1109,685.2 1125,684.7 1141,684 1157,684.7 1173,685.2 1189,686.3 1205,687 1221,687 1237,687 1253,686.3 1269,684 1285,681.8 1301,677.2 1317,672.6 1333,666.4 1349,660 1365,654.3 1381,650.9" fill="none" stroke="#ff0000" stroke-width="2" shape-rendering="crispEdges"/>
<text x="9.5" y="641" font-size="9.3" fill="#000" text-anchor="start" textLength="127.5" lengthAdjust="spacing">MACD(12,26,9) 1.2189 1.0824</text>
<text x="1648" y="639" font-size="9" fill="#000" text-anchor="start">1.3565</text>
<rect x="1645" y="633" width="3" height="1" fill="#000"/>
<text x="1648" y="725.5" font-size="9" fill="#000" text-anchor="start">0</text>
<polyline points="5,765.6 21,762.9 37,762.5 53,759.4 69,757.3 85,755.3 101,754.9 117,756.7 133,756.1 149,755.7 165,761.5 181,761.5 197,756.7 213,758.8 229,759.2 245,764 261,762.9 277,762.5 293,775.8 309,772.2 325,771.8 341,772.5 357,774.7 373,773.7 389,771.6 405,769.1 421,768.7 437,773.3 453,778.4 469,778.9 485,773.7 501,777 517,777 533,775.3 549,771.6 565,770.8 581,770.8 597,767.1 613,758.8 629,756.1 645,755.7 661,757.8 677,757.8 693,758.8 709,759.8 725,760.2 741,762.9 757,767.7 773,761.9 789,761.5 805,761.9 821,765 837,765 853,764 869,764 885,762.3 901,756.7 917,755.7 933,761.5 949,761.5 965,756.1 981,754.9 997,755.7 1013,755.7 1029,755.1 1045,753.8 1061,761.8 1077,761.3 1093,757.9 1109,761.8 1125,760.2 1141,760.8 1157,760.8 1173,760.8 1189,762.9 1205,761.8 1221,753.3 1237,751 1253,746.9 1269,749.2 1285,747.1 1301,745.7 1317,745.7 1333,744.8 1349,751 1365,759.7 1381,759.7" fill="none" stroke="#1e90ff" stroke-width="2" shape-rendering="crispEdges"/>
<text x="9.3" y="744" font-size="9.3" fill="#000" text-anchor="start" textLength="67" lengthAdjust="spacing">RSI(14) 68.6992</text>
<text x="1648" y="742" font-size="9" fill="#000" text-anchor="start">100</text>
<text x="1647" y="754" font-size="9" fill="#000" text-anchor="start">80</text>
<text x="1647" y="780" font-size="9" fill="#000" text-anchor="start">50</text>
<text x="1647" y="811" font-size="9" fill="#000" text-anchor="start">15</text>
<text x="1648" y="817.5" font-size="9" fill="#000" text-anchor="start">0</text>
<rect x="5" y="0" width="1" height="18" fill="#a0a0a0"/>
<rect x="6" y="0" width="1" height="18" fill="#ffffff"/>
<g shape-rendering="geometricPrecision">
<defs><linearGradient id="plusg" x1="0" y1="0" x2="1" y2="1"><stop offset="0" stop-color="#a0ffa0"/><stop offset="0.5" stop-color="#10f020"/><stop offset="1" stop-color="#10c020"/></linearGradient></defs>
<path d="M15.6,0.6 H23.2 L26.4,3.8 V13.3 H15.6 Z" fill="#ffffff" stroke="#727272" stroke-width="1.1"/>
<path d="M23,0.6 V3.2 Q23,4 23.8,4 H26.4 Z" fill="#555" stroke="#555" stroke-width="0.8"/>
<circle cx="24.4" cy="2.4" r="0.6" fill="#fff"/>
<path d="M17.3,3.1 h2.6 M17.3,6.5 h6 M17.3,8.5 h4.5 M17.3,10.5 h2" stroke="#6a6a6a" stroke-width="1"/>
<path d="M23.4,6.4 h3.6 v4 h3.6 v3.4 h-3.6 v3.8 h-3.6 v-3.8 h-4 v-3.4 h4 z" fill="url(#plusg)" stroke="#0a8a0a" stroke-width="1.1"/>
</g>
<text x="34" y="10.8" font-size="12" fill="#000" stroke="#000" stroke-width="0.1">新订单</text>
<g shape-rendering="geometricPrecision">
<defs><linearGradient id="gold" x1="0" y1="0" x2="1" y2="1"><stop offset="0" stop-color="#f8e070"/><stop offset="0.5" stop-color="#e8b818"/><stop offset="1" stop-color="#f0d060"/></linearGradient><linearGradient id="cloudg" x1="0" y1="0" x2="0" y2="1"><stop offset="0" stop-color="#ffffff"/><stop offset="1" stop-color="#b8c4da"/></linearGradient></defs>
<path d="M82.2,9.8 C84,7.5 86.5,5 87.5,1.5 L96.4,7.4 L97.7,10.2 L90,15.4 Z" fill="url(#gold)" stroke="#9a6010" stroke-width="1"/>
<path d="M83.5,10.3 L90.5,14" stroke="#fbefb0" stroke-width="1.4"/>
<path d="M91,14.8 L97,10.6" stroke="#e8dca8" stroke-width="1.2"/>
</g>
<g shape-rendering="geometricPrecision">
<path d="M112,0 H122.8 V9 H112 Z" fill="#2aa0f4"/>
<path d="M112,0 H115 V9 H112 Z" fill="#0a80e0"/>
<path d="M115,0.5 V9 M112.3,0.8 L115,3" stroke="#ffffff" stroke-width="0.8"/>
<path d="M117.5,5.5 H122" stroke="#e8f6ff" stroke-width="1.1"/>
<path d="M111.5,15.5 C109.2,15.5 109.3,11.2 112,11.2 C112.5,8.8 115.6,8.6 117.3,10 C118.6,7.7 122.6,8 123.1,10.6 C126.6,10.7 126.6,15.5 124,15.5 Z" fill="url(#cloudg)" stroke="#40609a" stroke-width="1"/>
</g>
<g shape-rendering="geometricPrecision">
<path d="M146,8 L146,15.8 A7.8,7.8 0 0 0 153.8,8 A7.8,7.8 0 0 0 146,0.2 Z" fill="#cfe6cc" opacity="0.75"/>
<path d="M146,15.8 A7.8,7.8 0 0 1 146,0.2" fill="none" stroke="#5a84d0" stroke-width="1" opacity="0.8"/>
<path d="M146,12.8 A4.8,4.8 0 0 1 146,3.2" fill="none" stroke="#5a84d0" stroke-width="1" opacity="0.8"/>
<path d="M146,0.2 A7.8,7.8 0 0 1 146,15.8" fill="none" stroke="#3c8a50" stroke-width="1" opacity="0.8"/>
<path d="M146,3.2 A4.8,4.8 0 0 1 146,12.8" fill="none" stroke="#5aa060" stroke-width="1" opacity="0.7"/>
<circle cx="145.8" cy="7.6" r="1.9" fill="#2a5cc8"/>
<path d="M146.4,8 V15.6" stroke="#18a018" stroke-width="1.5"/>
</g>
<g shape-rendering="geometricPrecision">
<path d="M165.5,6 L181,6 L176,15 L172,15 Z" fill="#f2d850" stroke="#c8a020" stroke-width="0.8"/>
<ellipse cx="173" cy="4.5" rx="7.5" ry="2.6" fill="#5ab0e0" stroke="#2a80c0" stroke-width="0.8"/>
<ellipse cx="173" cy="2.5" rx="3" ry="2.5" fill="#78c4ec"/>
<circle cx="177.5" cy="11.5" r="4.5" fill="#d02818" stroke="#a01810" stroke-width="0.6"/>
<rect x="175.8" y="9.8" width="3.4" height="3.4" fill="#fff"/>
</g>
<text x="186" y="10.8" font-size="12" fill="#000" stroke="#000" stroke-width="0.1">自动交易</text>
<rect x="241" y="0" width="1" height="20" fill="#a0a0a0"/>
<rect x="242" y="0" width="1" height="20" fill="#ffffff"/>
<rect x="245" y="1" width="3" height="1" fill="#b8b8b8"/>
<rect x="245" y="3" width="3" height="1" fill="#b8b8b8"/>
<rect x="245" y="5" width="3" height="1" fill="#b8b8b8"/>
<rect x="245" y="7" width="3" height="1" fill="#b8b8b8"/>
<rect x="245" y="9" width="3" height="1" fill="#b8b8b8"/>
<rect x="245" y="11" width="3" height="1" fill="#b8b8b8"/>
<rect x="245" y="13" width="3" height="1" fill="#b8b8b8"/>
<rect x="245" y="15" width="3" height="1" fill="#b8b8b8"/>
<g shape-rendering="geometricPrecision" fill="none" stroke="#555" stroke-width="1.1"><path d="M259.5,2.5 V16 M257,13.5 H270.5"/><path d="M258,4.2 L259.5,2.2 L261,4.2 M269,12.0 L271,13.5 L269,15.0"/></g>
<path d="M265.5,3 V11.5 M265.5,4.5 H268.5 M265.5,10.5 H262.5" stroke="#108a10" stroke-width="1.2" fill="none" shape-rendering="geometricPrecision"/>
<rect x="279" y="0" width="1" height="18" fill="#a0a0a0"/>
<rect x="280" y="0" width="1" height="18" fill="#ffffff"/>
<rect x="281" y="0" width="23" height="19" fill="#f8f8f8"/>
<g shape-rendering="geometricPrecision" fill="none" stroke="#555" stroke-width="1.1"><path d="M287.5,2.5 V16 M285,13.5 H298.5"/><path d="M286,4.2 L287.5,2.2 L289,4.2 M297,12.0 L299,13.5 L297,15.0"/></g>
<g shape-rendering="geometricPrecision">
<path d="M293.5,0 V12" stroke="#108a10" stroke-width="1.1"/>
<rect x="291.3" y="2.3" width="4.4" height="7.5" fill="#40dc40" stroke="#0a8a0a" stroke-width="1"/>
</g>
<g shape-rendering="geometricPrecision" fill="none" stroke="#555" stroke-width="1.1"><path d="M315.5,2.5 V16 M313,13.5 H326.5"/><path d="M314,4.2 L315.5,2.2 L317,4.2 M325,12.0 L327,13.5 L325,15.0"/></g>
<path d="M314,10.5 Q317,5 320,5.2 Q322.5,5.5 325.5,9" fill="none" stroke="#28a028" stroke-width="1.1" shape-rendering="geometricPrecision"/>
<rect x="336" y="0" width="1" height="18" fill="#a0a0a0"/>
<rect x="337" y="0" width="1" height="18" fill="#ffffff"/>
<g shape-rendering="geometricPrecision">
<path d="M354.2,9.5 L359.7,14.5" stroke="#b88a10" stroke-width="3.2"/>
<path d="M354.2,9.5 L359.7,14.5" stroke="#f0d860" stroke-width="1.6"/>
<circle cx="351.2" cy="5.9" r="5.2" fill="#dcf0fc" stroke="#3a7ac8" stroke-width="1.1"/>
<path d="M348.2,5.9 H354.2 M351.2,2.9 V8.9" stroke="#4a88b0" stroke-width="1.6"/>
</g>
<g shape-rendering="geometricPrecision">
<path d="M381.8,9.5 L387.3,14.5" stroke="#b88a10" stroke-width="3.2"/>
<path d="M381.8,9.5 L387.3,14.5" stroke="#f0d860" stroke-width="1.6"/>
<circle cx="378.8" cy="5.9" r="5.2" fill="#dcf0fc" stroke="#3a7ac8" stroke-width="1.1"/>
<path d="M375.8,5.9 H381.8" stroke="#4a88b0" stroke-width="1.6"/>
</g>
<rect x="401" y="0" width="8" height="7.8" fill="#2a9a1a"/>
<rect x="402" y="2.5" width="6" height="4.5" fill="#ffffff"/>
<rect x="403" y="3.5" width="4" height="1" fill="#9ad890"/>
<rect x="402" y="0.8" width="1" height="1" fill="#ffffff" opacity="0.8"/>
<rect x="409" y="0" width="8" height="7.8" fill="#1a4ed0"/>
<rect x="410" y="2.5" width="6" height="4.5" fill="#ffffff"/>
<rect x="411" y="3.5" width="4" height="1" fill="#90a8ec"/>
<rect x="410" y="0.8" width="1" height="1" fill="#ffffff" opacity="0.8"/>
<rect x="401" y="8" width="8" height="7.8" fill="#1a4ed0"/>
<rect x="402" y="10.5" width="6" height="4.5" fill="#ffffff"/>
<rect x="403" y="11.5" width="4" height="1" fill="#90a8ec"/>
<rect x="402" y="8.8" width="1" height="1" fill="#ffffff" opacity="0.8"/>
<rect x="409" y="8" width="8" height="7.8" fill="#2a9a1a"/>
<rect x="410" y="10.5" width="6" height="4.5" fill="#ffffff"/>
<rect x="411" y="11.5" width="4" height="1" fill="#9ad890"/>
<rect x="410" y="8.8" width="1" height="1" fill="#ffffff" opacity="0.8"/>
<rect x="426" y="0" width="1" height="18" fill="#a0a0a0"/>
<rect x="427" y="0" width="1" height="18" fill="#ffffff"/>
<rect x="431" y="0" width="1" height="18" fill="#a0a0a0"/>
<rect x="432" y="0" width="1" height="18" fill="#ffffff"/>
<rect x="433" y="0" width="24" height="19" fill="#f8f8f8"/>
<g shape-rendering="geometricPrecision" fill="none" stroke="#555" stroke-width="1.1"><path d="M439.5,2.5 V16 M437,13.5 H450.5"/><path d="M438,4.2 L439.5,2.2 L441,4.2 M449,12.0 L451,13.5 L449,15.0"/></g>
<path d="M444,4 L448,7.4 L444,10.8 Z" fill="#70d070" stroke="#189018" stroke-width="1.1" shape-rendering="geometricPrecision"/>
<rect x="459" y="0" width="1" height="18" fill="#a0a0a0"/>
<rect x="460" y="0" width="1" height="18" fill="#ffffff"/>
<rect x="461" y="0" width="24" height="19" fill="#f8f8f8"/>
<g shape-rendering="geometricPrecision" fill="none" stroke="#555" stroke-width="1.1"><path d="M467.5,2.5 V16 M465,13.5 H478.5"/><path d="M466,4.2 L467.5,2.2 L469,4.2 M477,12.0 L479,13.5 L477,15.0"/></g>
<path d="M473.5,2 V11.7" stroke="#1a6aa8" stroke-width="1.1" shape-rendering="geometricPrecision"/>
<path d="M474.5,7.4 L477.5,5 L477,7 H479 V7.8 H477 L477.5,9.8 Z" fill="#f06010" stroke="#b03a00" stroke-width="0.6" shape-rendering="geometricPrecision"/>
<rect x="488" y="0" width="1" height="18" fill="#a0a0a0"/>
<rect x="489" y="0" width="1" height="18" fill="#ffffff"/>
<g shape-rendering="geometricPrecision">
<path d="M498.6,0.6 H506.2 L509.4,3.8 V13.3 H498.6 Z" fill="#ffffff" stroke="#727272" stroke-width="1.1"/>
<path d="M506,0.6 V3.2 Q506,4 506.8,4 H509.4 Z" fill="#555" stroke="#555" stroke-width="0.8"/>
<path d="M502.5,2.5 Q500.8,2.5 500.8,4.5 V11.5" fill="none" stroke="#5a4a2a" stroke-width="0.9"/>
<path d="M506.4,6.4 h3.6 v4 h3.6 v3.4 h-3.6 v3.8 h-3.6 v-3.8 h-4 v-3.4 h4 z" fill="url(#plusg)" stroke="#0a8a0a" stroke-width="1.1"/>
</g>
<polygon points="520,7 525.5,7 522.75,10" fill="#000" shape-rendering="geometricPrecision"/>
<g shape-rendering="geometricPrecision">
<circle cx="544.1" cy="8" r="6.6" fill="#ffffff" stroke="#0e62c4" stroke-width="3"/>
<circle cx="544.1" cy="8" r="6.6" fill="none" stroke="#3aa0f0" stroke-width="1" opacity="0.8"/>
<path d="M543.2,4.3 L544.2,8.2 L546.8,7.6" fill="none" stroke="#202020" stroke-width="1.1"/>
<path d="M544.1,3.3 v0.8 M544.1,11.9 v0.8 M539.5,8 h0.8 M547.9,8 h0.8" stroke="#8a8a8a" stroke-width="0.7"/>
</g>
<polygon points="559,7 564.5,7 561.75,10" fill="#000" shape-rendering="geometricPrecision"/>
<g shape-rendering="geometricPrecision">
<rect x="575.5" y="1.5" width="15" height="13.5" fill="#ffffff" stroke="#3a78c8" stroke-width="1.1"/>
<rect x="576" y="2" width="14" height="1.8" fill="#8ab8e8"/>
<rect x="576" y="8.6" width="14" height="1.4" fill="#6a9ad8"/>
<path d="M577.5,7.5 L579,7.5 L581,6.3 L583,5.3 L585,6.5 L587,5.8 L588.5,5.3" fill="none" stroke="#a02000" stroke-width="1"/>
<path d="M577.5,12.5 L579.5,12.3 L581,11.5 L583,12.5 L585,10.5 L587,11.5 L588.5,12.5" fill="none" stroke="#10a010" stroke-width="1"/>
</g>
<polygon points="598,7 603.5,7 600.75,10" fill="#000" shape-rendering="geometricPrecision"/>
<rect x="609" y="0" width="1" height="18" fill="#a0a0a0"/>
<rect x="610" y="0" width="1" height="18" fill="#ffffff"/>
<rect x="613" y="1" width="3" height="1" fill="#b8b8b8"/>
<rect x="613" y="3" width="3" height="1" fill="#b8b8b8"/>
<rect x="613" y="5" width="3" height="1" fill="#b8b8b8"/>
<rect x="613" y="7" width="3" height="1" fill="#b8b8b8"/>
<rect x="613" y="9" width="3" height="1" fill="#b8b8b8"/>
<rect x="613" y="11" width="3" height="1" fill="#b8b8b8"/>
<rect x="613" y="13" width="3" height="1" fill="#b8b8b8"/>
<rect x="613" y="15" width="3" height="1" fill="#b8b8b8"/>
<rect x="619" y="0" width="1" height="18" fill="#a0a0a0"/>
<rect x="620" y="0" width="1" height="18" fill="#ffffff"/>
<rect x="621" y="0" width="24" height="19" fill="#f8f8f8"/>
<path d="M627,1.5 L635.5,8.5 L632,9 L634.5,14 L632.5,15 L630,10 L627,12.5 Z" fill="#444" shape-rendering="geometricPrecision"/>
<rect x="652" y="8" width="6" height="1" fill="#444"/><rect x="661" y="8" width="6" height="1" fill="#444"/>
<rect x="659" y="1" width="1" height="6" fill="#444"/><rect x="659" y="10" width="1" height="6" fill="#444"/>
<rect x="676" y="0" width="1" height="18" fill="#a0a0a0"/>
<rect x="677" y="0" width="1" height="18" fill="#ffffff"/>
<rect x="693" y="3" width="1" height="12" fill="#444"/>
<rect x="716" y="8" width="12" height="1" fill="#444"/>
<path d="M744,14.8 L756.2,2.8" stroke="#444" stroke-width="1.1" shape-rendering="geometricPrecision"/>
<g shape-rendering="geometricPrecision">
<path d="M770,9.5 L777.6,2.3 M775.2,14.5 L784,6.3" stroke="#444" stroke-width="0.9"/>
<path d="M772.6,7.3 Q772.1,11 772.6,14.5 M775.6,5.8 Q775.2,9 775.8,11.8 M778.8,3.8 Q778.4,7 778.9,10.3 M781.6,0 Q781.2,4 782,7.4" fill="none" stroke="#333" stroke-width="1.3"/>
</g>
<text x="780.8" y="16.9" font-size="7" font-weight="bold" fill="#333">E</text>
<rect x="799" y="1.5" width="1" height="1" fill="#444"/>
<rect x="801" y="1.5" width="1" height="1" fill="#444"/>
<rect x="803" y="1.5" width="1" height="1" fill="#444"/>
<rect x="805" y="1.5" width="1" height="1" fill="#444"/>
<rect x="807" y="1.5" width="1" height="1" fill="#444"/>
<rect x="809" y="1.5" width="1" height="1" fill="#444"/>
<rect x="811" y="1.5" width="1" height="1" fill="#444"/>
<rect x="799" y="4.5" width="1" height="1" fill="#444"/>
<rect x="801" y="4.5" width="1" height="1" fill="#444"/>
<rect x="803" y="4.5" width="1" height="1" fill="#444"/>
<rect x="805" y="4.5" width="1" height="1" fill="#444"/>
<rect x="807" y="4.5" width="1" height="1" fill="#444"/>
<rect x="809" y="4.5" width="1" height="1" fill="#444"/>
<rect x="811" y="4.5" width="1" height="1" fill="#444"/>
<rect x="799" y="8.5" width="1" height="1" fill="#444"/>
<rect x="801" y="8.5" width="1" height="1" fill="#444"/>
<rect x="803" y="8.5" width="1" height="1" fill="#444"/>
<rect x="805" y="8.5" width="1" height="1" fill="#444"/>
<rect x="807" y="8.5" width="1" height="1" fill="#444"/>
<rect x="809" y="8.5" width="1" height="1" fill="#444"/>
<rect x="811" y="8.5" width="1" height="1" fill="#444"/>
<rect x="799" y="12.5" width="1" height="1" fill="#444"/>
<rect x="801" y="12.5" width="1" height="1" fill="#444"/>
<rect x="803" y="12.5" width="1" height="1" fill="#444"/>
<rect x="805" y="12.5" width="1" height="1" fill="#444"/>
<rect x="807" y="12.5" width="1" height="1" fill="#444"/>
<text x="808.5" y="16.5" font-size="6.5" font-weight="bold" fill="#444">F</text>
<text x="829" y="12.8" font-size="11.5" fill="#555" stroke="#555" stroke-width="0.45">A</text>
<rect x="856" y="2" width="1" height="1" fill="#555"/><rect x="856" y="14" width="1" height="1" fill="#555"/>
<rect x="858" y="2" width="1" height="1" fill="#555"/><rect x="858" y="14" width="1" height="1" fill="#555"/>
<rect x="860" y="2" width="1" height="1" fill="#555"/><rect x="860" y="14" width="1" height="1" fill="#555"/>
<rect x="862" y="2" width="1" height="1" fill="#555"/><rect x="862" y="14" width="1" height="1" fill="#555"/>
<rect x="864" y="2" width="1" height="1" fill="#555"/><rect x="864" y="14" width="1" height="1" fill="#555"/>
<rect x="866" y="2" width="1" height="1" fill="#555"/><rect x="866" y="14" width="1" height="1" fill="#555"/>
<rect x="856" y="2" width="1" height="1" fill="#555"/><rect x="867" y="2" width="1" height="1" fill="#555"/>
<rect x="856" y="4" width="1" height="1" fill="#555"/><rect x="867" y="4" width="1" height="1" fill="#555"/>
<rect x="856" y="6" width="1" height="1" fill="#555"/><rect x="867" y="6" width="1" height="1" fill="#555"/>
<rect x="856" y="8" width="1" height="1" fill="#555"/><rect x="867" y="8" width="1" height="1" fill="#555"/>
<rect x="856" y="10" width="1" height="1" fill="#555"/><rect x="867" y="10" width="1" height="1" fill="#555"/>
<rect x="856" y="12" width="1" height="1" fill="#555"/><rect x="867" y="12" width="1" height="1" fill="#555"/>
<rect x="858" y="5" width="8" height="1.3" fill="#555"/><rect x="861.3" y="5" width="1.4" height="8" fill="#555"/>
<g shape-rendering="geometricPrecision">
<path d="M883,5.2 L886.5,1.8 L890,5.2 L888.5,6.6 L884.5,6.6 Z M890.2,11.2 L891.8,9.8 L895.5,9.8 L897,11.2 L893.6,14.9 Z" fill="#555"/>
<path d="M885.2,8.8 L887.4,11.4 L891.8,6.2" fill="none" stroke="#555" stroke-width="1.4"/>
</g>
<polygon points="904,7 909.5,7 906.75,10" fill="#000" shape-rendering="geometricPrecision"/>
<rect x="915" y="0" width="1" height="20" fill="#a0a0a0"/>
<rect x="916" y="0" width="1" height="20" fill="#ffffff"/>
<rect x="919" y="1" width="3" height="1" fill="#b8b8b8"/>
<rect x="919" y="3" width="3" height="1" fill="#b8b8b8"/>
<rect x="919" y="5" width="3" height="1" fill="#b8b8b8"/>
<rect x="919" y="7" width="3" height="1" fill="#b8b8b8"/>
<rect x="919" y="9" width="3" height="1" fill="#b8b8b8"/>
<rect x="919" y="11" width="3" height="1" fill="#b8b8b8"/>
<rect x="919" y="13" width="3" height="1" fill="#b8b8b8"/>
<rect x="919" y="15" width="3" height="1" fill="#b8b8b8"/>
<rect x="1065" y="0" width="1" height="18" fill="#a0a0a0"/>
<rect x="1066" y="0" width="1" height="18" fill="#ffffff"/>
<rect x="1067" y="0" width="24" height="19" fill="#f8f8f8"/>
<text x="930.5" y="11.8" font-size="9.6" fill="#333">M1</text>
<text x="958.5" y="11.8" font-size="9.6" fill="#333">M5</text>
<text x="985" y="11.8" font-size="9.6" fill="#333">M15</text>
<text x="1012.5" y="11.8" font-size="9.6" fill="#333">M30</text>
<text x="1043.5" y="11.8" font-size="9.6" fill="#333">H1</text>
<text x="1070.5" y="11.8" font-size="9.6" fill="#333">H4</text>
<text x="1099.5" y="11.8" font-size="9.6" fill="#333">D1</text>
<text x="1127" y="11.8" font-size="9.6" fill="#333">W1</text>
<text x="1153.5" y="11.8" font-size="9.6" fill="#333">MN</text>
<rect x="1176" y="0" width="1" height="18" fill="#a0a0a0"/>
<rect x="1177" y="0" width="1" height="18" fill="#ffffff"/>
<g shape-rendering="geometricPrecision">
<circle cx="1646.4" cy="5.3" r="3.6" fill="#f4f6fc" stroke="#2a62d8" stroke-width="1.1"/>
<path d="M1644,8 L1639,12.8" stroke="#2a62d8" stroke-width="2.2" stroke-linecap="round"/>
<ellipse cx="1669" cy="10" rx="6" ry="4.5" fill="#e4e6ee" stroke="#a8a8a8" stroke-width="0.8"/>
<path d="M1666,13.5 L1666,16.5 L1669,14" fill="#c0c0c0"/>
<circle cx="1677.4" cy="5.5" r="8" fill="#dc3a20"/>
</g>
<text x="1677.4" y="10" font-size="11" font-weight="bold" fill="#fff" text-anchor="middle" font-family="Liberation Serif, serif">1</text>
</svg></body></html>
